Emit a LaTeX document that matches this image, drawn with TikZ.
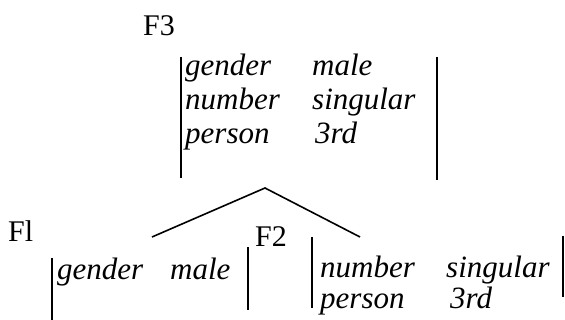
\documentclass[tikz,border=0pt]{standalone}
\usepackage{fontspec}
\setmainfont{Liberation Serif}
\begin{document}
\begin{tikzpicture}[x=1pt,y=-1pt,
  lbl/.style={anchor=base west,inner sep=0pt,font=\fontsize{30}{30}\selectfont},
  feat/.style={anchor=base west,inner sep=0pt,font=\fontsize{31}{31}\selectfont\itshape},
  bar/.style={line width=1.8pt},
  branch/.style={line width=1.6pt}]
\useasboundingbox (0,0) rectangle (565,320);
% labels
\node[lbl] (f3) at (143,36) {F3};
\node[lbl] (f1) at (8,242) {Fl};
\node[lbl] (f2) at (255,247) {F2};
% top matrix
\node[feat] (ga) at (185,76) {gender};
\node[feat] (gb) at (312,76) {male};
\node[feat] (na) at (185,110) {number};
\node[feat] (nb) at (312,110) {singular};
\node[feat] (pa) at (185,144) {person};
\node[feat] (pb) at (315,144) {3rd};
\draw[bar] (181,57) -- (181,178);
\draw[bar] (437,57) -- (437,180);
% branches
\coordinate (apex) at (265,188);
\coordinate (legl) at (152,237);
\coordinate (legr) at (360,237);
\draw[branch] (legl) -- (apex) -- (legr);
% F1 matrix
\node[feat] (g1a) at (57,280) {gender};
\node[feat] (g1b) at (170,280) {male};
\draw[bar] (52,258) -- (52,322);
\draw[bar] (248,247) -- (248,310);
% F2 matrix
\node[feat] (n2a) at (320,278) {number};
\node[feat] (n2b) at (446,278) {singular};
\node[feat] (p2a) at (320,309) {person};
\node[feat] (p2b) at (450,309) {3rd};
\draw[bar] (312,237) -- (312,308);
\draw[bar] (563,236) -- (563,297);
\end{tikzpicture}
\end{document}
